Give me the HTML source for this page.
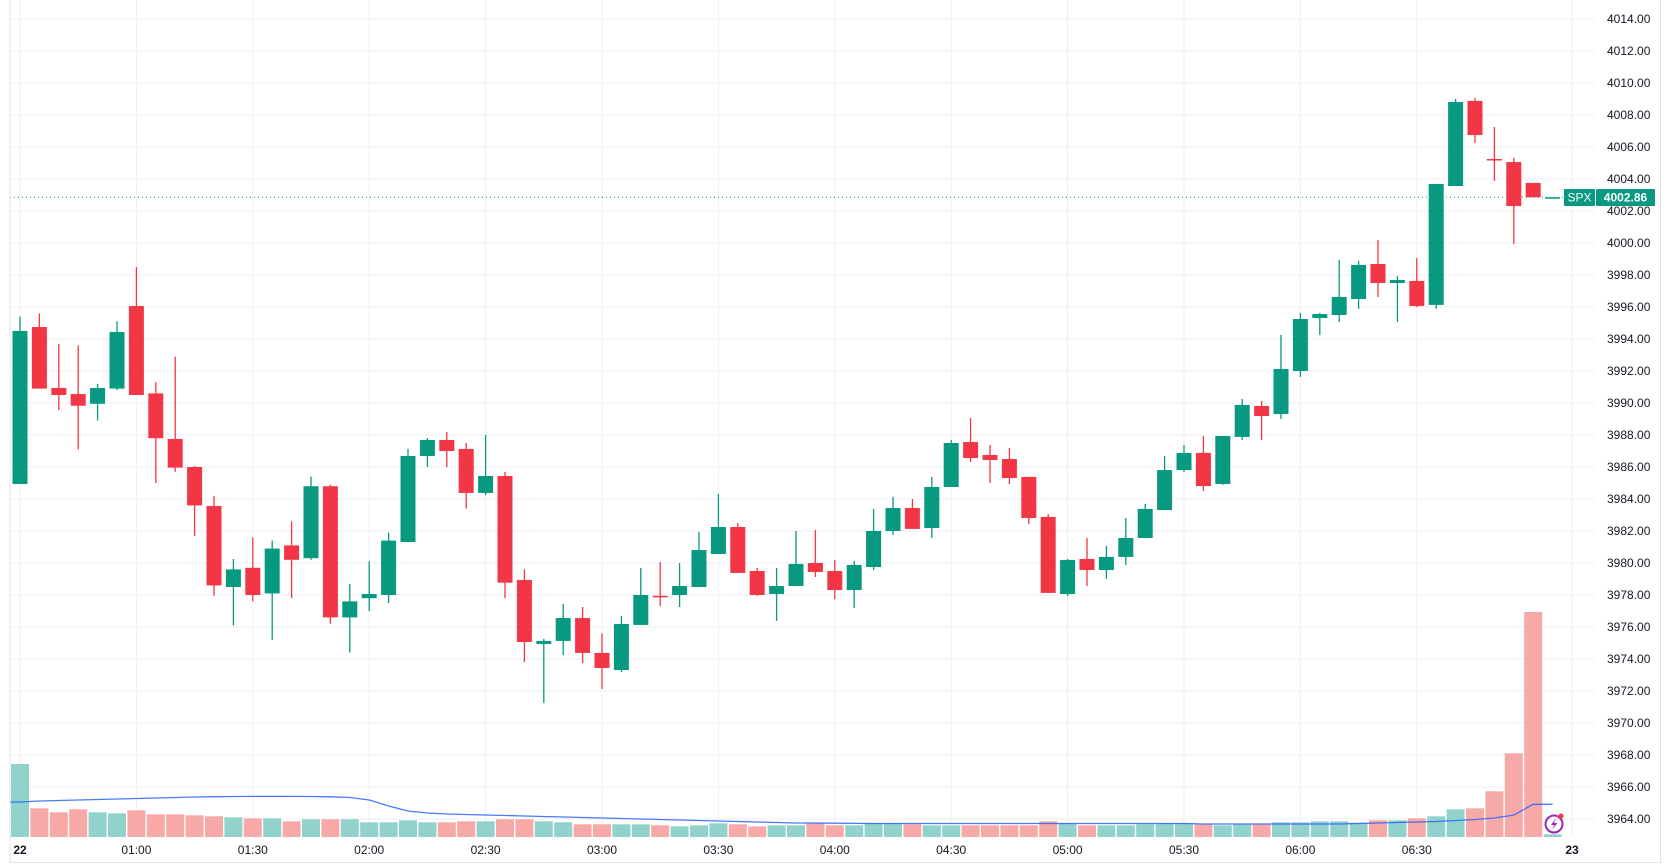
<!DOCTYPE html>
<html><head><meta charset="utf-8"><style>
html,body{margin:0;padding:0;background:#fff;width:1669px;height:865px;overflow:hidden}
svg{display:block;font-family:"Liberation Sans",sans-serif}
</style></head><body>
<svg id="chart" width="1669" height="865" viewBox="0 0 1669 865">
<rect x="0" y="0" width="1669" height="865" fill="#fff"/>
<g id="grid"></g>
<g id="vol"></g>
<path id="ma" fill="none" stroke="#2962ff" stroke-width="1.3" opacity="0.85"/>
<g id="candles"></g>
<g id="yaxis"></g>
<g id="xaxis"></g>
<line x1="10" y1="0" x2="10" y2="862" stroke="#e0e3eb" stroke-width="1"/>
<line x1="1660.5" y1="0" x2="1660.5" y2="863" stroke="#e0e3eb" stroke-width="1"/>
<line x1="10" y1="862.5" x2="1661" y2="862.5" stroke="#e0e3eb" stroke-width="1"/>
<g>
<circle cx="1554" cy="824" r="8.5" fill="none" stroke="#9c27b0" stroke-width="2"/>
<path d="M1556 818 L1551 825 L1554.5 825 L1552 830 L1557.5 823 L1554 823 Z" fill="#9c27b0"/>
<circle cx="1561" cy="816" r="2.5" fill="#f23645"/>
</g>
<g id="tag"></g>
</svg>
<script>
const opens=[3984.94,3994.75,3990.94,3990.56,3989.95,3990.9,3996.06,3990.6,3987.75,3986.0,3983.56,3978.5,3979.7,3978.1,3981.1,3980.3,3984.8,3976.6,3977.8,3978.0,3981.31,3986.69,3987.69,3987.13,3984.38,3985.44,3978.94,3974.94,3975.13,3976.56,3974.38,3973.31,3976.13,3977.95,3978.0,3978.5,3980.56,3982.25,3979.5,3978.06,3978.56,3980.0,3979.5,3978.31,3979.75,3982.0,3983.44,3982.19,3984.75,3987.56,3986.75,3986.5,3985.38,3982.88,3978.06,3980.25,3979.56,3980.38,3981.56,3983.31,3985.81,3986.88,3984.94,3987.88,3989.81,3989.31,3992.0,3995.31,3995.5,3996.5,3998.69,3997.5,3997.63,3996.13,4003.56,4008.88,4005.25,4005.06,4003.75,4002.86];
const highs=[3995.4,3995.6,3993.7,3993.6,3991.2,3995.1,3998.5,3991.3,3992.9,3986.06,3984.2,3980.25,3981.6,3981.4,3982.6,3985.4,3984.9,3978.7,3980.1,3981.9,3987.13,3987.81,3988.19,3987.5,3988.0,3985.69,3979.6,3975.25,3977.44,3977.25,3975.6,3976.7,3979.69,3980.06,3980.0,3981.94,3984.31,3982.5,3979.69,3979.69,3982.0,3982.06,3980.19,3980.13,3983.38,3984.13,3984.0,3985.38,3987.69,3989.06,3987.38,3987.19,3985.38,3983.06,3980.25,3981.56,3981.06,3982.81,3983.69,3986.69,3987.38,3987.94,3987.94,3990.25,3990.13,3994.25,3995.63,3995.63,3998.94,3998.88,4000.19,3997.94,3999.06,4003.69,4009.0,4009.06,4007.25,4005.31,4003.75,4002.86];
const lows=[3984.94,3990.9,3989.56,3987.1,3988.9,3990.8,3990.5,3985.0,3985.7,3981.7,3977.96,3976.1,3977.6,3975.2,3977.8,3980.2,3976.2,3974.4,3977.0,3977.5,3981.3,3986.0,3986.0,3983.4,3984.25,3977.8,3973.8,3971.25,3974.25,3973.75,3972.13,3973.19,3976.13,3977.3,3977.25,3978.5,3980.56,3979.38,3977.94,3976.38,3978.56,3979.13,3977.75,3977.19,3979.56,3981.75,3982.13,3981.56,3984.75,3986.31,3985.0,3984.94,3982.44,3978.13,3977.94,3978.56,3979.0,3979.88,3981.56,3983.31,3985.69,3984.5,3984.88,3987.69,3987.69,3989.0,3991.63,3994.25,3995.06,3995.88,3996.63,3995.06,3996.0,3995.88,4003.56,4006.25,4003.88,3999.94,4002.86,4002.86];
const closes=[3994.5,3990.9,3990.5,3989.83,3990.94,3994.44,3990.5,3987.8,3985.96,3983.6,3978.6,3979.6,3978.0,3980.9,3980.2,3984.8,3976.6,3977.6,3978.06,3981.4,3986.69,3987.69,3987.0,3984.38,3985.44,3978.77,3975.06,3975.13,3976.56,3974.38,3973.44,3976.19,3978.0,3977.9,3978.56,3980.81,3982.25,3979.38,3978.0,3978.56,3979.94,3979.44,3978.31,3979.88,3982.0,3983.44,3982.13,3984.75,3987.5,3986.56,3986.44,3985.31,3982.81,3978.13,3980.19,3979.56,3980.38,3981.56,3983.38,3985.81,3986.88,3984.81,3987.94,3989.88,3989.19,3992.13,3995.25,3995.56,3996.63,3998.63,3997.5,3997.69,3996.06,4003.69,4008.81,4006.75,4005.2,4002.31,4002.86,4002.86];
const volumes=[73,28.7,24.7,27.7,24.7,23.7,26.7,22.7,22.7,21.7,20.7,19.7,18.7,18.7,15.7,17.7,17.7,17.7,14.7,14.7,16.7,14.7,14.7,15.7,15.7,17.7,17.7,15.7,14.7,12.7,12.7,12.7,12.7,11.7,10.7,11.7,13.7,12.7,10.7,11.7,11.7,13.7,11.7,11.7,13.7,13.7,12.7,11.7,11.7,11.7,11.7,11.7,11.7,15.7,13.7,11.7,11.7,11.7,12.7,13.7,13.7,12.7,11.7,12.7,12.7,14.7,14.7,15.7,15.7,14.4,16.7,16.7,18.7,20.7,27.7,28.7,45.7,83.7,225,2.7];
const volMA=[35,36,36.5,37,37.5,38,38.5,39,39.5,40,40.3,40.5,40.6,40.6,40.6,40.5,40.2,39.5,37,31,26,24,23,22.5,22,21.5,21,20.5,20,19.5,19,18.5,18,17.5,17,16.5,16,15.5,15,14.5,14,14,13.8,13.6,13.5,13.5,13.5,13.5,13.5,13.5,13.5,13.5,13.5,13.5,13.5,13.5,13.5,13.5,13.5,13.5,13.5,13,13,13,13,13,13,13,13,13.5,14,14.5,15,15.5,16.5,17.5,19,22,32.7,32.7];
const priceTicks=[3964,3966,3968,3970,3972,3974,3976,3978,3980,3982,3984,3986,3988,3990,3992,3994,3996,3998,4000,4002,4004,4006,4008,4010,4012,4014];
const timeLabels=["22","01:00","01:30","02:00","02:30","03:00","03:30","04:00","04:30","05:00","05:30","06:00","06:30","23"];
const timeLabelIdx=[0,6,12,18,24,30,36,42,48,54,60,66,72,80];
const lastPrice=4002.86;

const NS="http://www.w3.org/2000/svg";
const X0=20, STEP=19.4, PLOT_R=1595, VOL_BASE=837;
const xs=i=>X0+i*STEP;
const ys=p=>19+(4014-p)*16;
const vy=v=>VOL_BASE-v;
function mk(tag,attrs,parent){const e=document.createElementNS(NS,tag);for(const k in attrs)e.setAttribute(k,attrs[k]);parent.appendChild(e);return e;}
const G=document.getElementById('grid'),V=document.getElementById('vol'),C=document.getElementById('candles'),YA=document.getElementById('yaxis'),XA=document.getElementById('xaxis'),TG=document.getElementById('tag');

priceTicks.forEach(p=>{
  const l=mk('line',{x1:10,x2:PLOT_R,y1:ys(p),y2:ys(p),stroke:'#eceff5','stroke-width':1},G);
  
  
  const t=mk('text',{x:1607,y:ys(p)+4,'font-size':12,fill:'#131722'},YA);
  t.textContent=p.toFixed(2);
  
  
});
timeLabels.forEach((s,k)=>{
  const x=xs(timeLabelIdx[k]);
  const l=mk('line',{x1:x,x2:x,y1:0,y2:VOL_BASE,stroke:'#eceff5','stroke-width':1},G);
  
  
  const bold=(s.length<=2);
  const t=mk('text',{x:x,y:854,'font-size':12,fill:'#131722','text-anchor':'middle','font-weight':bold?'bold':'normal'},XA);
  t.textContent=s;
  
  
});
volumes.forEach((v,i)=>{
  const up=closes[i]>=opens[i];
  const r=mk('rect',{x:xs(i)-9,y:vy(v),width:18,height:v,fill:up?'#92d2cc':'#f7a9a7'},V);
  
  
});
document.getElementById('ma').setAttribute('d','M10 '+vy(volMA[0]).toFixed(1)+' '+volMA.map((m,i)=>'L'+xs(i).toFixed(1)+' '+vy(m).toFixed(1)).join(' '));
const dl=mk('line',{x1:10,x2:1564,y1:ys(lastPrice),y2:ys(lastPrice),stroke:'#089981','stroke-width':1,'stroke-dasharray':'1 3'},G);


opens.forEach((o,i)=>{
  const c=closes[i],up=c>=o,x=xs(i);
  const col=up?'#089981':'#f23645';
  const g=mk('g',{},C);
  
  
  mk('line',{x1:x,x2:x,y1:ys(highs[i]),y2:ys(lows[i]),stroke:col,'stroke-width':1.3},g);
  const top=ys(Math.max(o,c)),h=Math.max(1.5,ys(Math.min(o,c))-top);
  mk('rect',{x:x-7.5,y:top,width:15,height:h,fill:col},g);
});
const t1=mk('rect',{x:1564,y:189,width:31,height:17,fill:'#089981',rx:1},TG);


const t1t=mk('text',{x:1579.5,y:201.5,'font-size':12,fill:'#fff','text-anchor':'middle'},TG);
t1t.textContent='SPX';
const t2=mk('rect',{x:1596,y:189,width:59,height:17,fill:'#089981',rx:1},TG);


const t2t=mk('text',{x:1625.5,y:201.5,'font-size':12,fill:'#fff','text-anchor':'middle','font-weight':'bold'},TG);
t2t.textContent=lastPrice.toFixed(2);
</script>
</body></html>
